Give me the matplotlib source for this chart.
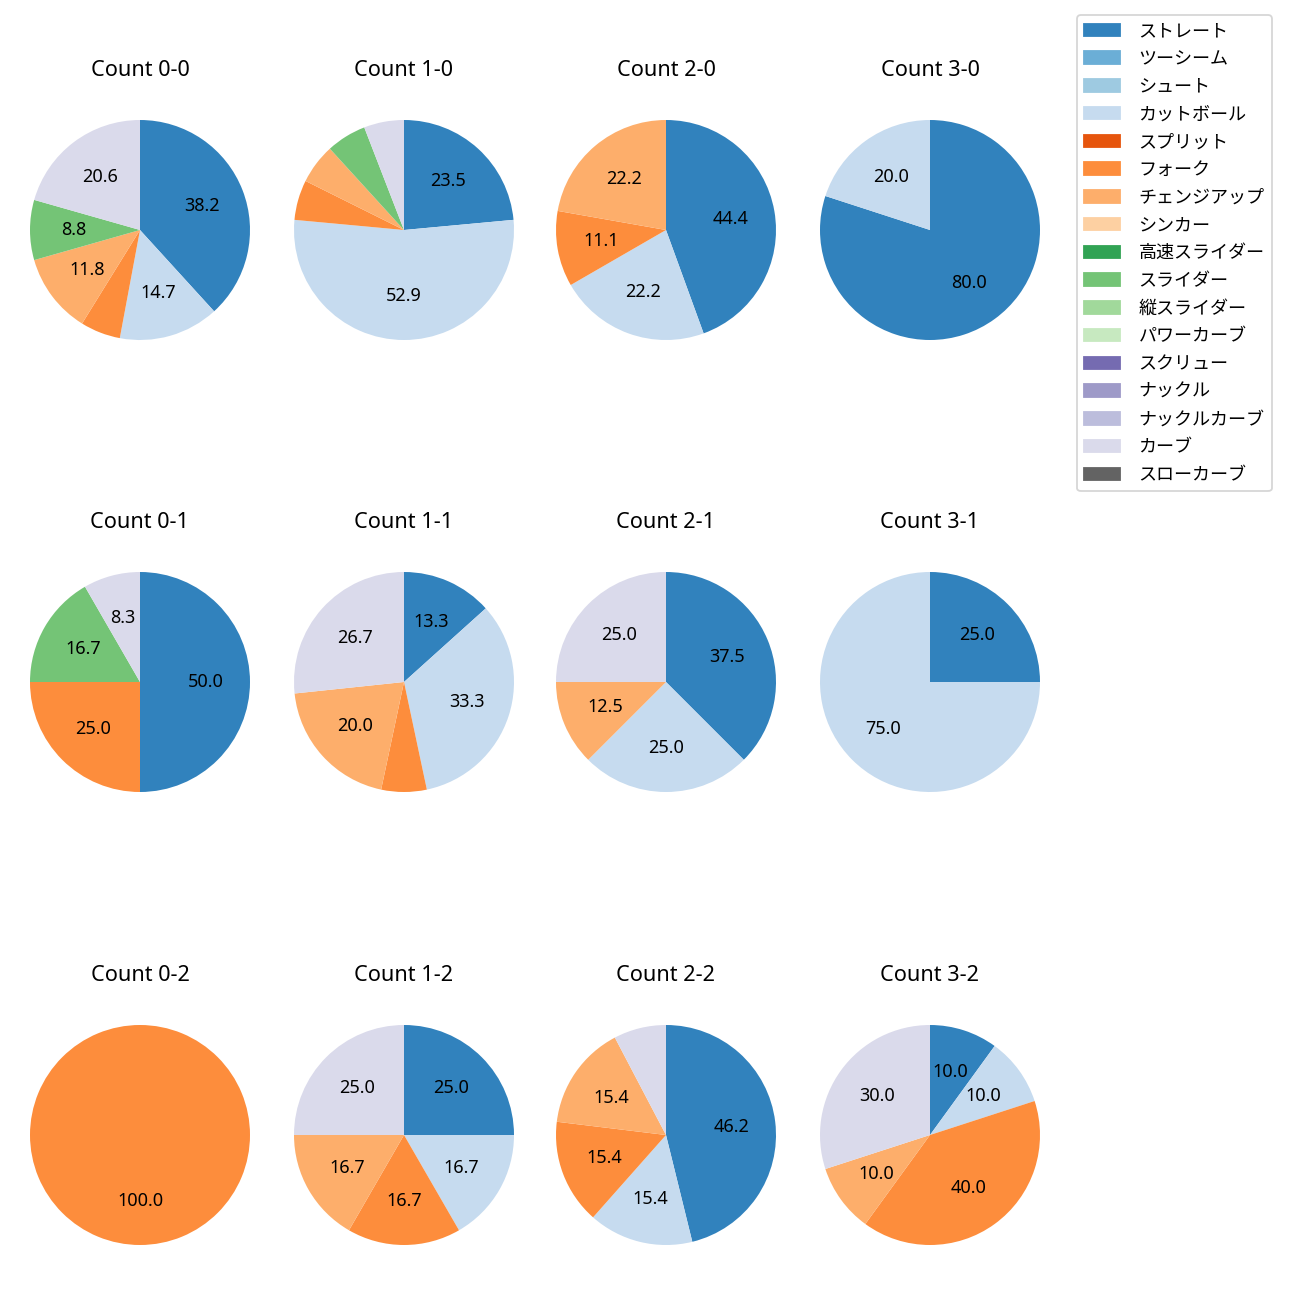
import numpy as np
import matplotlib.pyplot as plt
from matplotlib.patches import Patch

plt.rcParams['font.family'] = ['Noto Sans', 'Noto Sans CJK JP', 'DejaVu Sans']

pitch_types = ['ストレート', 'ツーシーム', 'シュート', 'カットボール', 'スプリット', 'フォーク',
               'チェンジアップ', 'シンカー', '高速スライダー', 'スライダー', '縦スライダー',
               'パワーカーブ', 'スクリュー', 'ナックル', 'ナックルカーブ', 'カーブ', 'スローカーブ']
colors = [plt.cm.tab20c(i) for i in range(len(pitch_types))]

# counts per pitch type (index into pitch_types)
counts = {
    '0-0': {0: 13, 3: 5, 5: 2, 6: 4, 9: 3, 15: 7},
    '1-0': {0: 4, 3: 9, 5: 1, 6: 1, 9: 1, 15: 1},
    '2-0': {0: 4, 3: 2, 5: 1, 6: 2},
    '3-0': {0: 4, 3: 1},
    '0-1': {0: 6, 5: 3, 9: 2, 15: 1},
    '1-1': {0: 2, 3: 5, 5: 1, 6: 3, 15: 4},
    '2-1': {0: 3, 3: 2, 6: 1, 15: 2},
    '3-1': {0: 1, 3: 3},
    '0-2': {5: 1},
    '1-2': {0: 3, 3: 2, 5: 2, 6: 2, 15: 3},
    '2-2': {0: 6, 3: 2, 5: 2, 6: 2, 15: 1},
    '3-2': {0: 1, 3: 1, 5: 4, 6: 1, 15: 3},
}

W = 1300
fig = plt.figure(figsize=(10, 10), dpi=130)

col_x = [140, 404, 666, 930]
row_y = [230, 682, 1135]
size = 275

for r in range(3):
    for c in range(4):
        key = f'{c}-{r}'
        data = counts[key]
        idx = sorted(data.keys())
        vals = [data[i] for i in idx]
        cols = [colors[i] for i in idx]
        ax = fig.add_axes([(col_x[c] - size / 2) / W, 1 - (row_y[r] + size / 2) / W,
                           size / W, size / W])
        ax.pie(vals, colors=cols, startangle=90, counterclock=False,
               autopct=lambda p: f'{p:.1f}' if p >= 8 else '',
               textprops={'fontsize': 10})
        ax.set_title(f'Count {key}', fontsize=12, pad=9)

handles = [Patch(color=colors[i], label=pitch_types[i]) for i in range(len(pitch_types))]
fig.legend(handles=handles, loc='upper left', bbox_to_anchor=(1077 / W, 1 - 15 / W),
           borderaxespad=0, fontsize=10, labelspacing=0.54, handletextpad=1.0)

fig.savefig('out.png')
